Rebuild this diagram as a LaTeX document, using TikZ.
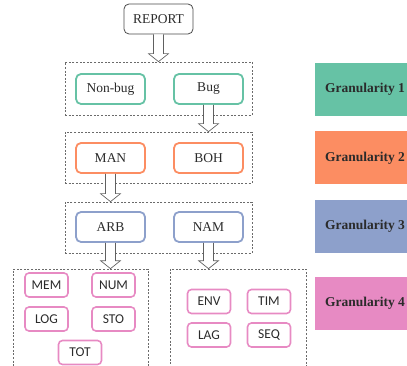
\documentclass[tikz,border=0pt]{standalone}
\usepackage{fontspec}
\setmainfont{Liberation Serif}
\newfontfamily\calfont{Carlito}
\usetikzlibrary{positioning}
\usetikzlibrary{calc}
\definecolor{gteal}{HTML}{66C2A5}
\definecolor{gorange}{HTML}{FC8D62}
\definecolor{gblue}{HTML}{8DA0CB}
\definecolor{gpink}{HTML}{E78AC3}
\definecolor{ink}{HTML}{2B2B2B}

\tikzset{
  report/.style={draw=ink!85,line width=0.8pt,rounded corners=5pt,minimum width=69pt,minimum height=30pt,
    text=ink,font=\fontsize{13.5}{15}\selectfont},
  cat/.style={draw=#1,line width=1.8pt,rounded corners=5pt,minimum width=69pt,minimum height=30pt,
    text=ink,font=\fontsize{13.5}{15}\selectfont},
  leaf/.style={draw=gpink,line width=1.6pt,rounded corners=4pt,minimum width=43pt,minimum height=24pt,
    text=ink,font=\calfont\fontsize{13.5}{15}\selectfont},
  group/.style={draw=ink!70,dash pattern=on 2pt off 1.6pt,line width=0.7pt,inner sep=0pt},
  gran/.style={fill=#1,draw=none,minimum width=100pt,minimum height=53pt,
    text=ink,font=\bfseries\fontsize{13.5}{15}\selectfont},
  arrowline/.style={draw=ink!75,fill=white,line width=0.7pt,line join=miter}
}

\newcommand{\blockarrow}[2]{%
  \draw[arrowline] ($(#1)+(-5,0)$) -- ($(#1 |- #2)+(-5,-8)$) -- ($(#1 |- #2)+(-10,-8)$)
    -- (#1 |- #2) -- ($(#1 |- #2)+(10,-8)$) -- ($(#1 |- #2)+(5,-8)$) -- ($(#1)+(5,0)$);}

\begin{document}
\begin{tikzpicture}[x=1pt,y=-1pt]

  \useasboundingbox (0,0) rectangle (407,366);
  \clip (0,0) rectangle (407,366);

  % dashed groups
  \node[group,minimum width=187pt,minimum height=53pt] (g1) at (158.5,88.5) {};
  \node[group,minimum width=187pt,minimum height=51pt] (g2) at (158.5,157.5) {};
  \node[group,minimum width=187pt,minimum height=51pt] (g3) at (158.5,227.5) {};
  \node[group,minimum width=135pt,minimum height=110pt] (g4a) at (80.5,324) {};
  \node[group,minimum width=136pt,minimum height=110pt] (g4b) at (238,324) {};

  % level nodes
  \node[report] (report) at (158.5,19) {REPORT};
  \node[cat=gteal] (nonbug) at (110.5,89) {Non-bug};
  \node[cat=gteal] (bug) at (208.5,89) {Bug};
  \node[cat=gorange] (man) at (110.5,158) {MAN};
  \node[cat=gorange] (boh) at (208.5,158) {BOH};
  \node[cat=gblue] (arb) at (110.5,227) {ARB};
  \node[cat=gblue] (nam) at (208.5,227) {NAM};

  % leaves
  \node[leaf] (mem) at (46.5,285) {MEM};
  \node[leaf] (num) at (113.5,285) {NUM};
  \node[leaf] (log) at (46.5,319) {LOG};
  \node[leaf] (sto) at (113.5,319) {STO};
  \node[leaf] (tot) at (80,352.5) {TOT};
  \node[leaf] (env) at (209,301.5) {ENV};
  \node[leaf] (tim) at (269,301.5) {TIM};
  \node[leaf] (lag) at (209,335) {LAG};
  \node[leaf] (seq) at (269,335) {SEQ};

  % arrows
  \blockarrow{report.south}{g1.north}
  \blockarrow{bug.south}{g2.north}
  \blockarrow{man.south}{g3.north}
  \blockarrow{arb.south}{g4a.north}
  \blockarrow{nam.south}{g4b.north}

  % legend
  \node[gran=gteal] (gr1) at (365,89.5) {Granularity 1};
  \node[gran=gorange] (gr2) at (365,158) {Granularity 2};
  \node[gran=gblue] (gr3) at (365,226.5) {Granularity 3};
  \node[gran=gpink] (gr4) at (365,303) {Granularity 4};

\end{tikzpicture}
\end{document}
